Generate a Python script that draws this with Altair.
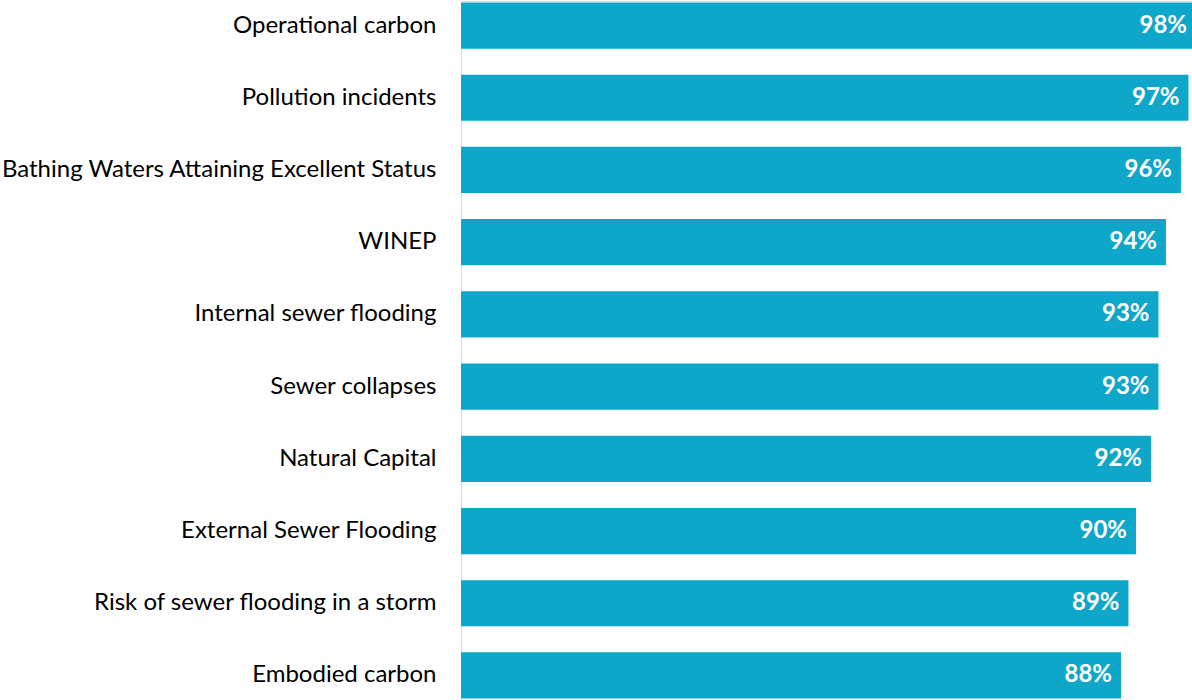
import altair as alt
import pandas as pd

categories = [
    "Operational carbon",
    "Pollution incidents",
    "Bathing Waters Attaining Excellent Status",
    "WINEP",
    "Internal sewer flooding",
    "Sewer collapses",
    "Natural Capital ",
    "External Sewer Flooding",
    "Risk of sewer flooding in a storm ",
    "Embodied carbon",
]
values = [98, 97, 96, 94, 93, 93, 92, 90, 89, 88]
value_labels = [f"{v}%" for v in values]

df = pd.DataFrame({"category": categories, "value": values, "label": value_labels})

FONT = "Lato"
BAR_COLOR = "#0fa7c9"

y_axis = alt.Axis(
    ticks=False,
    domain=False,
    grid=False,
    labelFontSize=24,
    labelFont=FONT,
    labelColor="#000000",
    labelPadding=25,
    labelLimit=600,
)
y_enc = alt.Y(
    "category:N",
    sort=categories,
    title=None,
    scale=alt.Scale(paddingInner=0.36, paddingOuter=0.02),
    axis=y_axis,
)
x_enc = alt.X(
    "value:Q",
    axis=None,
    scale=alt.Scale(domain=[0, 97.47], nice=False, zero=True),
)

bars = alt.Chart(df).mark_bar(color=BAR_COLOR, strokeWidth=0).encode(y=y_enc, x=x_enc)

text = alt.Chart(df).mark_text(
    align="right",
    baseline="middle",
    dx=-9,
    color="white",
    fontWeight="bold",
    fontSize=24,
    font=FONT,
).encode(
    y=y_enc,
    x=x_enc,
    text="label:N",
)

chart = (
    alt.layer(bars, text)
    .properties(
        width=731,
        height=699,
        autosize=alt.AutoSizeParams(type="none"),
        padding={"left": 461, "top": 1, "right": 0, "bottom": 0},
    )
    .configure_view(stroke="white", strokeOpacity=0, strokeWidth=0, fill="white")
    .configure_axis(domain=False, grid=False, ticks=False, domainColor="white",
                    domainOpacity=0, gridColor="white", gridOpacity=0)
    .configure(background="white")
)

chart.save("out.html", embed_options={"renderer": "svg", "actions": False})
